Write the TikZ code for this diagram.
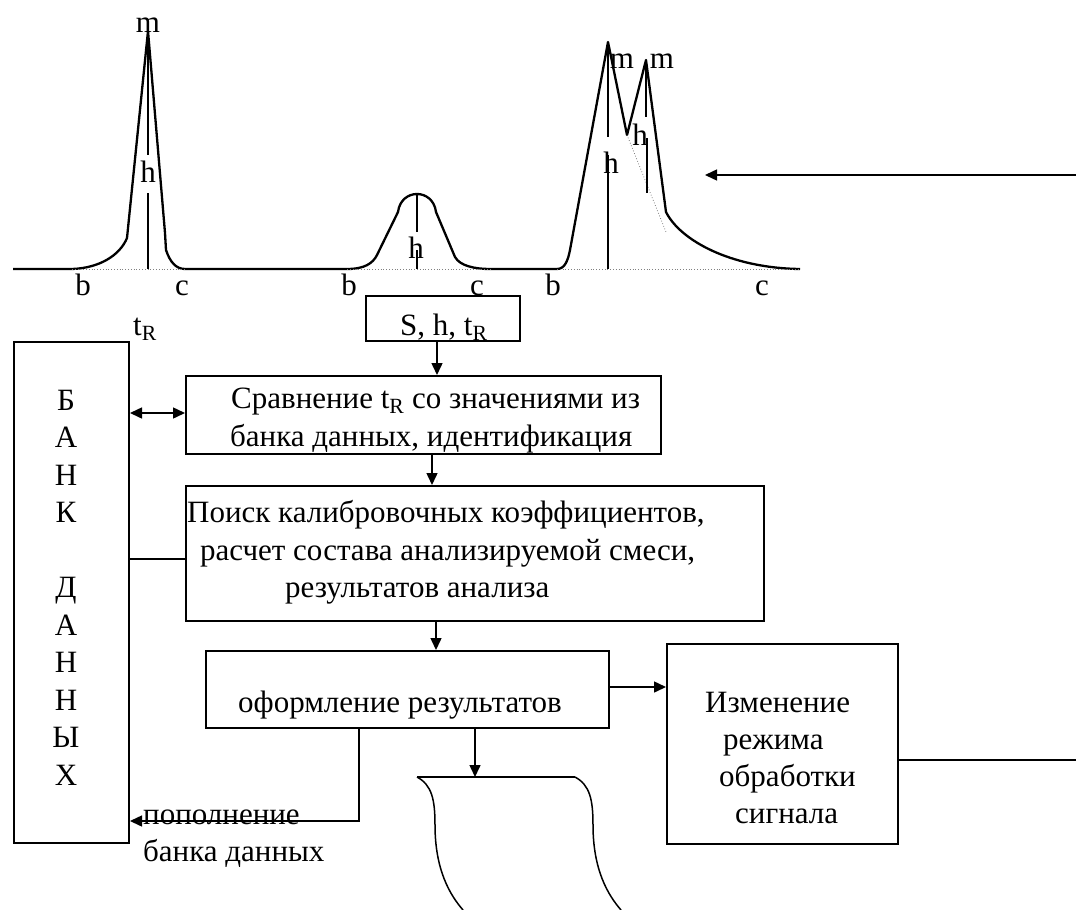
\documentclass[tikz,border=0pt]{standalone}
\usepackage{fontspec}
\setmainfont{Liberation Serif}
\usetikzlibrary{arrows.meta}
\begin{document}
\begin{tikzpicture}[x=1pt,y=-1pt,
  every node/.style={font=\fontsize{31}{37.5}\selectfont, inner sep=0pt},
  box/.style={draw, line width=2pt, anchor=north west, inner sep=0pt},
  txt/.style={anchor=base west},
  conn/.style={line width=1.5pt},
  arr/.style={conn, -{Triangle[length=12pt,width=11pt]}},
  darr/.style={conn, {Triangle[length=12pt,width=11pt]}-{Triangle[length=12pt,width=11pt]}},
  trace/.style={line width=2.3pt, line join=round},
  base/.style={gray, line width=0.8pt, dotted},
  lbl/.style={anchor=base}]
\useasboundingbox (0,0) rectangle (1076,910);

% ---- chromatogram trace ----
\draw[trace] (13,269) -- (72,269)
  .. controls (100,268) and (120,255) .. (127,238) -- (148,31) -- (165,233) -- (166,250)
  .. controls (170,262) and (176,269) .. (185,269) -- (347,269)
  .. controls (365,269) and (373,263) .. (377,255) -- (398,212)
  .. controls (401,188) and (433,188) .. (436,212) -- (455,257)
  .. controls (460,266) and (475,269) .. (490,269) -- (557,269)
  .. controls (565,269) and (568,260) .. (570,250) -- (608,42) -- (627,135) -- (646,60) -- (666,212)
  .. controls (680,240) and (730,268) .. (800,269);
% baselines under the peaks
\draw[base] (72,269) -- (185,269);
\draw[base] (347,269) -- (490,269);
\draw[base] (557,269) -- (800,269);
\draw[base] (627,135) -- (666,232);
% peak heights
\draw[trace] (148,31) -- (148,155) (148,193) -- (148,269);
\draw[trace] (417,194) -- (417,232) (417,250) -- (417,269);
\draw[trace] (608,42) -- (608,137) (608,155) -- (608,269);
\draw[trace] (646,60) -- (646,117) (647,138) -- (647,193);
% peak labels
\node[lbl] (m1) at (148,32) {m};
\node[lbl] (m2) at (622,68) {m};
\node[lbl] (m3) at (662,68) {m};
\node[lbl] (h1) at (148,182) {h};
\node[lbl] (h2) at (416,258) {h};
\node[lbl] (h3) at (611,173) {h};
\node[lbl] (h4) at (640,145) {h};
\node[lbl] (b1) at (83,295) {b};
\node[lbl] (c1) at (182,295) {c};
\node[lbl] (b2) at (349,295) {b};
\node[lbl] (c2) at (477,295) {c};
\node[lbl] (b3) at (553,295) {b};
\node[lbl] (c3) at (762,295) {c};
\node[lbl] (tr) at (145,335) {t\textsubscript{R}};

% ---- blocks ----
\node[box, minimum width=115pt, minimum height=501pt] (bank) at (13,341) {};
\node[box, minimum width=154pt, minimum height=45pt] (shr) at (365,295) {};
\node[box, minimum width=475pt, minimum height=78pt] (cmp) at (185,375) {};
\node[box, minimum width=578pt, minimum height=135pt] (calc) at (185,485) {};
\node[box, minimum width=403pt, minimum height=77pt] (form) at (205,650) {};
\node[box, minimum width=231pt, minimum height=200pt] (mode) at (666,643) {};

% block texts
\node[txt] (shrt) at (400,335) {S, h, t\textsubscript{R}};
\node[txt] (cmpt1) at (231,408) {Сравнение t\textsubscript{R} со значениями из};
\node[txt] (cmpt2) at (230,446) {банка данных, идентификация};
\node[txt] (calct1) at (187,522) {Поиск калибровочных коэффициентов,};
\node[txt] (calct2) at (200,560) {расчет состава анализируемой смеси,};
\node[txt] (calct3) at (285,597) {результатов анализа};
\node[txt] (formt) at (238,712) {оформление результатов};
\node[txt] (modet1) at (705,712) {Изменение};
\node[txt] (modet2) at (723,749) {режима};
\node[txt] (modet3) at (719,786) {обработки};
\node[txt] (modet4) at (735,823) {сигнала};
\foreach \ch [count=\i from 0] in {Б,А,Н,К,{},Д,А,Н,Н,Ы,Х}
  \node[lbl] (bk\i) at (66,410+37.5*\i) {\ch};
\node[txt] (fill1) at (143,824) {пополнение};
\node[txt] (fill2) at (143,861) {банка данных};

% ---- output document (tape) ----
\coordinate (docL) at (417,777);
\coordinate (docR) at (575,777);
\coordinate (docT) at (475,777);
\draw[conn] (docL) -- (docR);
\draw[conn] (docL) .. controls (432,785) and (435,800) .. (435,825)
  .. controls (435,870) and (450,895) .. (463,910);
\draw[conn] (docR) .. controls (590,785) and (593,800) .. (593,825)
  .. controls (593,870) and (608,895) .. (621,910);

% ---- connectors ----
\coordinate (ax1) at (437,0);
\coordinate (ax2) at (432,0);
\coordinate (ax3) at (436,0);
\coordinate (ax4) at (359,821);
\coordinate (yb1) at (0,413);
\coordinate (yb2) at (0,559);
\coordinate (ym) at (0,687);
\coordinate (sigIn) at (1076,175);
\coordinate (sigTip) at (705,175);
\coordinate (modeOut) at (1076,760);

\draw[arr] (ax1 |- shr.south) -- (ax1 |- cmp.north);
\draw[arr] (ax2 |- cmp.south) -- (ax2 |- calc.north);
\draw[arr] (ax3 |- calc.south) -- (ax3 |- form.north);
\draw[arr] (form.south -| docT) -- (docT);
\draw[darr] (bank.east |- yb1) -- (cmp.west |- yb1);
\draw[conn] (bank.east |- yb2) -- (calc.west |- yb2);
\draw[arr] (form.east |- ym) -- (mode.west |- ym);
\draw[arr] (ax4 |- form.south) -- (ax4) -- (ax4 -| bank.east);
\draw[arr] (sigIn) -- (sigTip);
\draw[conn] (mode.east |- modeOut) -- (modeOut);
\end{tikzpicture}
\end{document}
